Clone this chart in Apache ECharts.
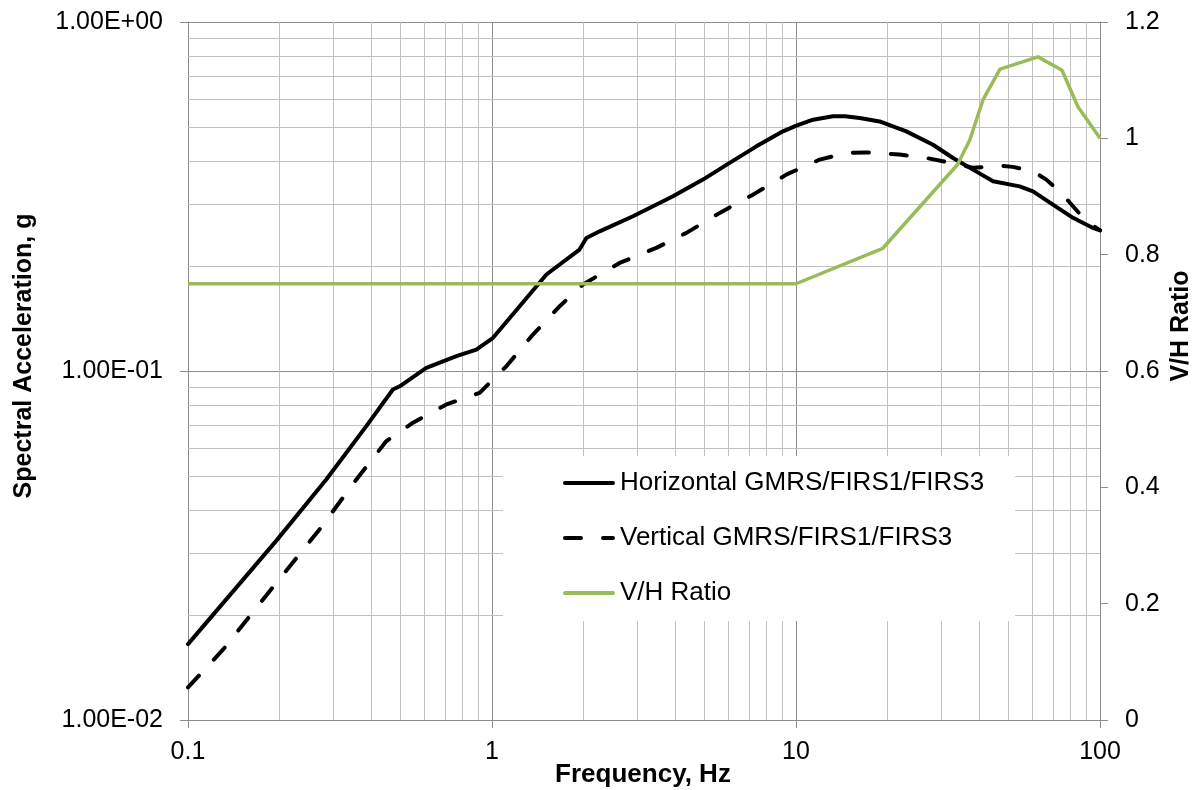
<!DOCTYPE html>
<html>
<head>
<meta charset="utf-8">
<script src="https://cdn.jsdelivr.net/npm/echarts@6/dist/echarts.min.js"></script>
<style>
  html, body { margin: 0; padding: 0; background: #fff; }
  #chart { width: 1198px; height: 790px; }
</style>
</head>
<body>
<div id="chart"></div>
<script>
// Horizontal GMRS/FIRS1/FIRS3 spectrum (frequency in Hz, acceleration in g)
const hFreq  = [0.1, 0.195, 0.285, 0.386, 0.472, 0.497, 0.608, 0.764, 0.888, 1.008, 1.233, 1.51, 1.94, 2.044, 2.26, 2.91, 3.94, 4.94, 6.05, 7.41, 9.06, 10.03, 11.38, 13.24, 14.5, 16.2, 18.84, 23.06, 28.23, 32.85, 38.2, 44.5, 54.4, 60.2, 70, 81.5, 94.8, 100];
const hAccel = [0.0165, 0.0326, 0.0489, 0.0695, 0.0885, 0.0904, 0.1021, 0.1103, 0.1152, 0.1245, 0.1533, 0.189, 0.2228, 0.2406, 0.2513, 0.2775, 0.3167, 0.3535, 0.3948, 0.4403, 0.486, 0.5047, 0.525, 0.5367, 0.537, 0.531, 0.519, 0.486, 0.445, 0.4077, 0.3776, 0.3496, 0.338, 0.327, 0.2998, 0.2747, 0.257, 0.253];

// Vertical GMRS/FIRS1/FIRS3 spectrum
const vFreq  = [0.1, 0.1303, 0.1856, 0.2711, 0.3236, 0.358, 0.4494, 0.5496, 0.708, 0.911, 1.115, 1.364, 1.67, 1.992, 2.63, 3.47, 4.36, 5.61, 7.22, 9.29, 11.96, 14.65, 17.05, 21.9, 26.85, 34.6, 38.2, 46.8, 51.7, 60.2, 66.6, 75.5, 81.5, 90.2, 100];
const vAccel = [0.0124, 0.0159, 0.0234, 0.0352, 0.0434, 0.0489, 0.063, 0.0711, 0.0802, 0.0866, 0.1032, 0.1272, 0.1533, 0.177, 0.204, 0.2253, 0.2487, 0.2838, 0.3201, 0.3653, 0.4034, 0.4215, 0.423, 0.417, 0.4077, 0.3904, 0.382, 0.3878, 0.3845, 0.3734, 0.3535, 0.32, 0.2965, 0.2685, 0.253];

// V/H ratio (secondary axis)
const rFreq  = [0.1, 10, 19.3, 34, 37.3, 41.2, 46.9, 62.5, 75, 84.7, 100];
const rRatio = [0.75, 0.75, 0.811, 0.955, 0.997, 1.066, 1.119, 1.14, 1.117, 1.054, 1.0];

// Axis tick labels
const xTickLabels = ['0.1', '1', '10', '100'];
const yTickLabels = ['1.00E-02', '1.00E-01', '1.00E+00'];

const FONT = 'Liberation Sans, Arial, sans-serif';
const MAJOR = '#8c8c8c';
const MINOR = '#c0c0c0';

const pairs = (xs, ys) => xs.map((x, i) => [x, ys[i]]);

// Minor log-paper grid lines (2..9 within each decade)
const minorX = [];
[0.1, 1, 10].forEach(d => { for (let k = 2; k <= 9; k++) minorX.push(+(d * k).toPrecision(3)); });
const minorY = [];
[0.01, 0.1].forEach(d => { for (let k = 2; k <= 9; k++) minorY.push(+(d * k).toPrecision(3)); });

// Legend swatches: a 52x25 box holding a 4px line (solid, dashed)
const ICON_SOLID  = 'path://M0,0M52,25M2,10.5H50A2,2,0,0,1,50,14.5H2A2,2,0,0,1,2,10.5Z';
const ICON_DASHED = 'path://M0,0M52,25M2,10.5H18A2,2,0,0,1,18,14.5H2A2,2,0,0,1,2,10.5Z M40,10.5H50A2,2,0,0,1,50,14.5H40A2,2,0,0,1,40,10.5Z';

const chart = echarts.init(document.getElementById('chart'), null, { renderer: 'canvas' });

chart.setOption({
  animation: false,
  backgroundColor: '#fff',
  textStyle: { fontFamily: FONT },
  grid: { left: 188, right: 98, top: 22, bottom: 70, containLabel: false },
  legend: {
    left: 503, top: 456, z: 20,
    orient: 'vertical',
    padding: [14, 31, 15, 60],
    backgroundColor: '#fff',
    itemWidth: 52, itemHeight: 25, itemGap: 29,
    itemStyle: { borderWidth: 0 },
    textStyle: { fontFamily: FONT, fontSize: 26, color: '#000', lineHeight: 25 },
    data: [
      { name: 'Horizontal GMRS/FIRS1/FIRS3', icon: ICON_SOLID },
      { name: 'Vertical GMRS/FIRS1/FIRS3', icon: ICON_DASHED },
      { name: 'V/H Ratio', icon: ICON_SOLID }
    ],
    selectedMode: false
  },
  xAxis: {
    type: 'log', logBase: 10, min: 0.1, max: 100,
    axisLine: { show: true, lineStyle: { color: MAJOR, width: 1 } },
    axisTick: { show: true, inside: false, length: 8, lineStyle: { color: MAJOR } },
    axisLabel: {
      margin: 20, fontSize: 25, color: '#000', fontFamily: FONT,
      formatter: v => xTickLabels[Math.round(Math.log10(v)) + 1]
    },
    splitLine: { show: true, lineStyle: { color: MAJOR, width: 1 } },
    minorTick: { show: false }, minorSplitLine: { show: false }
  },
  yAxis: [
    {
      type: 'log', logBase: 10, min: 0.01, max: 1,
      axisLine: { show: true, lineStyle: { color: MAJOR, width: 1 } },
      axisTick: { show: true, inside: false, length: 8, lineStyle: { color: MAJOR } },
      axisLabel: {
        margin: 25, fontSize: 25, color: '#000', fontFamily: FONT,
        formatter: v => yTickLabels[Math.round(Math.log10(v)) + 2]
      },
      splitLine: { show: true, lineStyle: { color: MAJOR, width: 1 } }
    },
    {
      type: 'value', min: 0, max: 1.2, interval: 0.2, position: 'right',
      axisLine: { show: true, lineStyle: { color: MAJOR, width: 1 } },
      axisTick: { show: true, inside: false, length: 8, lineStyle: { color: MAJOR } },
      axisLabel: { margin: 25, fontSize: 25, color: '#000', fontFamily: FONT },
      splitLine: { show: false }
    }
  ],
  graphic: [
    {
      type: 'text', x: 24.5, y: 356, rotation: Math.PI / 2,
      style: { text: 'Spectral Acceleration, g', font: 'bold 25px ' + FONT, fill: '#000', textAlign: 'center', textVerticalAlign: 'middle' }
    },
    {
      type: 'text', x: 1181, y: 326, rotation: Math.PI / 2,
      style: { text: 'V/H Ratio', font: 'bold 25px ' + FONT, fill: '#000', textAlign: 'center', textVerticalAlign: 'middle' }
    },
    {
      type: 'text', x: 643, y: 775,
      style: { text: 'Frequency, Hz', font: 'bold 26px ' + FONT, fill: '#000', textAlign: 'center', textVerticalAlign: 'middle' }
    }
  ],
  series: [
    {
      // minor grid drawn beneath the curves
      name: 'grid-minor', type: 'line', data: [], z: 0, silent: true,
      markLine: {
        z: 1, silent: true, symbol: 'none', animation: false,
        label: { show: false },
        lineStyle: { color: MINOR, width: 1, type: 'solid' },
        emphasis: { disabled: true },
        data: minorX.map(v => ({ xAxis: v })).concat(minorY.map(v => ({ yAxis: v })))
      }
    },
    {
      name: 'Horizontal GMRS/FIRS1/FIRS3', type: 'line', yAxisIndex: 0,
      data: pairs(hFreq, hAccel), symbol: 'none', z: 3,
      lineStyle: { color: '#000', width: 4, cap: 'round', join: 'round' },
      itemStyle: { color: '#000' }
    },
    {
      name: 'Vertical GMRS/FIRS1/FIRS3', type: 'line', yAxisIndex: 0,
      data: pairs(vFreq, vAccel), symbol: 'none', z: 3,
      lineStyle: { color: '#000', width: 4, type: [16, 22], cap: 'round', join: 'round' },
      itemStyle: { color: '#000' }
    },
    {
      name: 'V/H Ratio', type: 'line', yAxisIndex: 1,
      data: pairs(rFreq, rRatio), symbol: 'none', z: 3,
      lineStyle: { color: '#9bbb59', width: 3.5, join: 'round' },
      itemStyle: { color: '#9bbb59' }
    }
  ]
});
</script>
</body>
</html>
